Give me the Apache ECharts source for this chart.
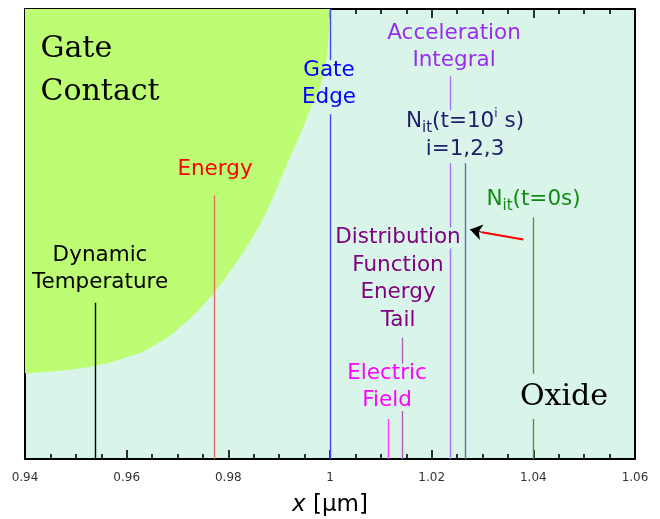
<!DOCTYPE html>
<html>
<head>
<meta charset="utf-8">
<script src="https://cdn.jsdelivr.net/npm/echarts@6/dist/echarts.min.js"></script>
<style>
  html, body { margin: 0; padding: 0; background: #ffffff; }
  #chart { width: 660px; height: 519px; }
</style>
</head>
<body>
<div id="chart"></div>
<script>
// Position of each marked quantity along the cross-section (µm)
const markerNames = ['Dynamic Temperature', 'Energy', 'Gate Edge', 'Electric Field',
  'Distribution Function Energy Tail', 'Acceleration Integral', 'Nit(t=10^i s)', 'Nit(t=0s)'];
const markerX = [0.9539, 0.9772, 1.0, 1.0115, 1.0143, 1.0237, 1.0267, 1.04];
// Visible pieces of each marker line, in height units (0 = bottom, 449 = top)
const markerSpans = [
  [[0, 156]],
  [[0, 263]],
  [[0, 344], [398, 449]],
  [[0, 40]],
  [[0, 48], [95, 121]],
  [[0, 210], [231, 295], [348, 382]],
  [[0, 295]],
  [[0, 40], [85, 241]]
];

// Lower edge of the gate contact region
const gateEdgeX = [0.94, 0.94689, 0.95377, 0.95967, 0.96459, 0.97108, 0.97699, 0.98072,
  0.98427, 0.98781, 0.99135, 0.99391, 0.99646, 0.99843, 0.99941, 1.0];
const gateEdgeY = [85.5, 88, 93, 101, 111, 134, 165, 190, 217, 250, 292, 321, 353, 378, 403, 449];

// Arrow: shift of Nit towards the interface
const arrowFrom = [1.03803, 219];
const arrowBend = [1.02985, 226.3];
const arrowTo = [1.02755, 229];

// Annotation texts and their anchor points
const labelTexts = [
  'Dynamic\nTemperature',
  'Energy',
  'Gate\nEdge',
  'Electric\nField',
  'Distribution\nFunction\nEnergy\nTail',
  'Acceleration\nIntegral',
  '{n|N}{sub|it}{n|(t=10}{sup|i}{n| s)}\n{n|i=1,2,3}',
  '{n|N}{sub|it}{n|(t=0s)}',
  'Gate\nContact',
  'Oxide'
];
const labelX = [0.95476, 0.97738, 0.9998, 1.01122, 1.01338, 1.0244, 1.02656, 1.04004, 0.94295, 1.04604];
const labelY = [189.5, 288.6, 374, 72, 179.7, 411, 323, 259, 387, 61.7];

const Y_MAX = 449;
const SANS = 'DejaVu Sans';
const SERIF = 'DejaVu Serif';

const lineColors = ['#000000', '#e8705f', '#4646ff', '#ff3cff', '#ad62ad', '#a374ff', '#5f6fae', '#3f9f3f'];
const textColors = ['#000000', '#ff0000', '#0000ff', '#ff00ff', '#800080', '#9a2cf2', '#1d1f6b', '#138a13', '#000000', '#000000'];

const chart = echarts.init(document.getElementById('chart'), null, { renderer: 'canvas' });

const segmentData = [];
markerX.forEach((x, i) => {
  markerSpans[i].forEach(([y0, y1]) => {
    segmentData.push({ coords: [[x, y0], [x, y1]], lineStyle: { color: lineColors[i] } });
  });
});

const labelData = labelTexts.map((t, i) => {
  const isRegion = i >= 8;
  const label = {
    show: true,
    formatter: t,
    color: textColors[i],
    opacity: 1,
    textBorderWidth: 0,
    textBorderColor: 'transparent',
    textShadowBlur: 0,
    fontFamily: isRegion ? SERIF : SANS,
    fontSize: isRegion ? 30 : 21.5,
    lineHeight: isRegion ? 43 : 27.5,
    position: 'inside',
    align: 'center',
    verticalAlign: 'middle',
    rich: {
      n: { fontFamily: SANS, fontSize: 21.5, lineHeight: 27.5, color: textColors[i] },
      sub: { fontFamily: SANS, fontSize: 15, lineHeight: 9, verticalAlign: 'bottom', color: textColors[i] },
      sup: { fontFamily: SANS, fontSize: 12, lineHeight: 2, verticalAlign: 'top', color: textColors[i] }
    }
  };
  if (i === 8) {
    label.position = 'right';
    label.distance = 0;
    label.align = 'left';
  }
  return { value: [labelX[i], labelY[i]], label };
});

const xCommon = {
  type: 'value',
  min: 0.94,
  max: 1.06,
  interval: 0.02,
  splitLine: { show: false },
  axisLine: { show: true, onZero: false, lineStyle: { color: '#000', width: 2 } },
  axisTick: { show: true, inside: true, length: 9, lineStyle: { color: '#000', width: 1.6 } },
  minorTick: { show: true, splitNumber: 4, length: 5, lineStyle: { color: '#000', width: 1.6 } }
};

chart.setOption({
  animation: false,
  backgroundColor: '#ffffff',
  grid: {
    left: 25, right: 25, top: 9, bottom: 60,
    containLabel: false,
    outerBoundsMode: 'none',
    show: true,
    backgroundColor: '#d9f5e9',
    borderWidth: 0
  },
  xAxis: [
    Object.assign({}, xCommon, {
      position: 'bottom',
      axisLabel: { show: true, fontFamily: SANS, fontSize: 12, color: '#333', margin: 13 },
      name: '{i|x} [µm]',
      nameLocation: 'middle',
      nameGap: 33,
      nameTextStyle: {
        fontFamily: SANS, fontSize: 23, color: '#000', lineHeight: 26,
        rich: { i: { fontFamily: SANS, fontStyle: 'italic', fontSize: 23, color: '#000', lineHeight: 26 } }
      }
    }),
    Object.assign({}, xCommon, {
      position: 'top',
      axisLabel: { show: false }
    })
  ],
  yAxis: [
    {
      type: 'value', min: 0, max: Y_MAX, position: 'left',
      axisLine: { show: true, onZero: false, lineStyle: { color: '#000', width: 2 } },
      axisTick: { show: false }, axisLabel: { show: false }, splitLine: { show: false }
    },
    {
      type: 'value', min: 0, max: Y_MAX, position: 'right',
      axisLine: { show: true, onZero: false, lineStyle: { color: '#000', width: 2 } },
      axisTick: { show: false }, axisLabel: { show: false }, splitLine: { show: false }
    }
  ],
  series: [
    {
      name: 'Gate Contact',
      type: 'line',
      data: gateEdgeX.map((x, i) => [x, gateEdgeY[i]]),
      smooth: 0.5,
      showSymbol: false,
      symbol: 'none',
      lineStyle: { width: 0 },
      areaStyle: { color: '#bdfd73', opacity: 1, origin: 'end' },
      z: 1
    },
    {
      name: 'markers',
      type: 'lines',
      coordinateSystem: 'cartesian2d',
      polyline: false,
      lineStyle: { width: 1.4, opacity: 1 },
      data: segmentData,
      z: 2
    },
    {
      name: 'shift',
      type: 'lines',
      coordinateSystem: 'cartesian2d',
      lineStyle: { width: 2, color: '#ff0000', opacity: 1 },
      data: [{ coords: [arrowFrom, arrowBend] }],
      z: 3
    },
    {
      name: 'shift head',
      type: 'lines',
      coordinateSystem: 'cartesian2d',
      symbol: ['none', 'arrow'],
      symbolSize: 12,
      lineStyle: { width: 1, color: '#000000', opacity: 1 },
      data: [{ coords: [arrowBend, arrowTo] }],
      z: 4
    },
    {
      name: 'annotations',
      type: 'scatter',
      symbolSize: 1,
      itemStyle: { color: 'rgba(0,0,0,0)' },
      emphasis: { disabled: true },
      data: labelData,
      z: 5
    }
  ]
});
</script>
</body>
</html>
